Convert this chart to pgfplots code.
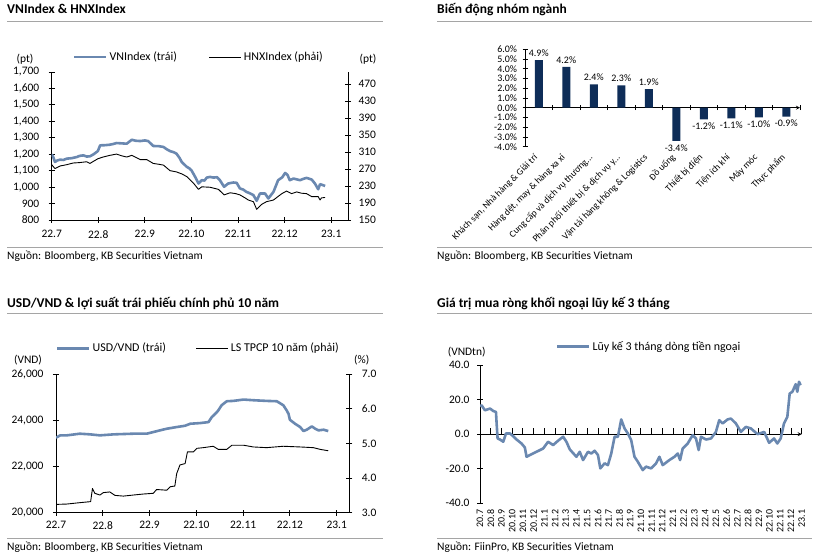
\documentclass[border=0pt]{standalone}
\usepackage{fontspec}
\setmainfont{Carlito}
\usepackage{pgfplots}
\pgfplotsset{compat=1.18}

\definecolor{kbblue}{HTML}{6A88B0}
\definecolor{kbnavy}{HTML}{0E2D58}
\definecolor{rulegray}{HTML}{A5A5A5}

\newcommand{\fs}[1]{\fontsize{#1}{#1}\selectfont}
\newcommand{\trunc}{.\kern0pt.\kern0pt.}

\pgfplotsset{
  kb/.style={
    scale only axis, anchor=south west,
    /pgf/number format/assume math mode=true,
    scaled ticks=false,
    axis line style={-, line width=0.8bp},
    every inner x axis line/.append style={-},
    every outer x axis line/.append style={-},
    every inner y axis line/.append style={-},
    every outer y axis line/.append style={-},
    tick align=center, major tick length=6bp,
    every tick/.style={black, line width=0.8bp},
    tick label style={font=\fs{11.5}},
    legend style={draw=none, fill=none, font=\fs{12}, inner sep=0pt, outer sep=0pt},
    legend image code/.code={\draw[##1, mark=none] (0bp,0bp) -- (32bp,0bp);},
  },
  blueline/.style={kbblue, line width=2.6bp, no markers, line join=round},
  blackline/.style={black, line width=0.9bp, no markers, line join=round},
}

\begin{document}
\begin{tikzpicture}
\useasboundingbox (0,0) rectangle (815bp,557bp);

% ---------- titles, rules, sources
\tikzset{ttl/.style={anchor=base west, inner sep=0pt, font=\bfseries\fs{13.5}},
         src/.style={anchor=base west, inner sep=0pt, font=\fs{11.5}}}
\node[ttl] at (7bp,543bp) {VNIndex \& HNXIndex};
\node[ttl] at (437bp,543bp) {Biến động nhóm ngành};
\node[ttl] at (7bp,249.7bp) {USD/VND \& lợi suất trái phiếu chính phủ 10 năm};
\node[ttl] at (437bp,249.7bp) {Giá trị mua ròng khối ngoại lũy kế 3 tháng};
\draw[rulegray, line width=1bp] (7bp,535.5bp) -- (383bp,535.5bp);
\draw[rulegray, line width=1bp] (437bp,535.5bp) -- (812bp,535.5bp);
\draw[rulegray, line width=1bp] (7bp,243bp) -- (383bp,243bp);
\draw[rulegray, line width=1bp] (437bp,243bp) -- (812bp,243bp);
\draw[rulegray, line width=1bp] (7bp,309.5bp) -- (383bp,309.5bp);
\draw[rulegray, line width=1bp] (437bp,309.5bp) -- (812bp,309.5bp);
\draw[rulegray, line width=1bp] (7bp,18bp) -- (383bp,18bp);
\draw[rulegray, line width=1bp] (437bp,18bp) -- (812bp,18bp);
\node[src] at (7bp,297.7bp) {Nguồn: Bloomberg, KB Securities Vietnam};
\node[src] at (437bp,297.7bp) {Nguồn: Bloomberg, KB Securities Vietnam};
\node[src] at (7bp,6.3bp) {Nguồn: Bloomberg, KB Securities Vietnam};
\node[src] at (437bp,6.3bp) {Nguồn: FiinPro, KB Securities Vietnam};

\node[font=\fs{11.5}] at (25bp,498bp) {(pt)};
\node[font=\fs{11.5}] at (368bp,498bp) {(pt)};
\node[font=\fs{11.5}] at (28bp,197bp) {(VND)};
\node[font=\fs{11.5}] at (361.7bp,197bp) {(\%)};
\node[font=\fs{11.5}] at (466.7bp,205.3bp) {(VNDtn)};

% ---------- panel 1: VNIndex (left)
\begin{axis}[kb, at={(51.7bp,337bp)}, width=296.3bp, height=148bp,
  xmin=0, xmax=6.36, ymin=800, ymax=1700,
  axis y line*=left, axis x line*=bottom,
  xtick={0,...,6}, xticklabels={22.7,22.8,22.9,22.10,22.11,22.12,23.1},
  ytick={800,900,...,1700},
  /pgf/number format/1000 sep={,},
  xticklabel style={yshift=-4bp}, yticklabel style={xshift=-6bp}]
\addplot[blueline] table {
x y
0 1199
0.03 1185
0.07 1153
0.12 1162
0.18 1167
0.25 1165
0.32 1173
0.43 1176
0.54 1183
0.60 1190
0.68 1193
0.75 1186
0.82 1187
0.90 1200
0.99 1219
1.04 1254
1.15 1255
1.25 1258
1.32 1262
1.39 1268
1.50 1266
1.61 1264
1.72 1288
1.80 1282
1.90 1280
2.00 1284
2.07 1280
2.18 1250
2.30 1249
2.40 1244
2.47 1230
2.54 1219
2.62 1212
2.68 1203
2.75 1175
2.79 1153
2.90 1123
2.95 1115
3.00 1102
3.08 1062
3.15 1022
3.22 1042
3.28 1040
3.33 1058
3.40 1062
3.47 1058
3.55 1060
3.61 1042
3.70 1002
3.79 1022
3.90 1028
3.97 1026
4.04 992
4.11 985
4.18 971
4.25 963
4.33 951
4.40 917
4.47 961
4.58 961
4.65 931
4.76 971
4.86 1042
4.95 1060
5.01 1086
5.06 1075
5.11 1042
5.19 1052
5.26 1047
5.33 1042
5.40 1050
5.47 1056
5.58 1046
5.65 1022
5.72 987
5.76 1018
5.82 1012
5.87 1007
};
\end{axis}
% panel 1: HNXIndex (right)
\begin{axis}[kb, at={(51.7bp,337bp)}, width=296.3bp, height=148bp,
  xmin=0, xmax=6.36, ymin=150, ymax=498,
  axis y line*=right, axis x line=none,
  ytick={150,190,...,470}, yticklabel style={xshift=4bp},
  legend columns=2,
  legend style={at={(0.072,1.101)}, anchor=west,
    /tikz/every even column/.append style={column sep=30bp}}]
\addlegendimage{blueline}
\addlegendentry{VNIndex (trái)}
\addplot[blackline] table {
x y
0 280
0.07 271
0.18 277
0.32 280
0.46 284
0.60 285
0.75 287
0.82 283
0.99 294
1.10 298
1.25 302
1.39 305
1.50 301
1.61 298
1.72 302
1.90 292
2.04 292
2.18 283
2.30 281
2.40 279
2.54 266
2.68 263
2.80 258
2.90 252
3.04 237
3.15 222
3.22 228
3.40 227
3.58 222
3.70 209
3.83 214
3.95 212
4.04 209
4.15 202
4.22 197
4.33 193
4.40 175
4.51 187
4.61 193
4.76 197
4.94 212
5.04 218
5.15 212
5.26 216
5.36 213
5.47 212
5.58 205
5.72 205
5.76 197
5.79 202
5.87 203
};
\addlegendentry{HNXIndex (phải)}
\end{axis}

% ---------- panel 2: sector bars
\begin{axis}[kb, at={(525bp,410.3bp)}, width=275bp, height=97.4bp,
  xmin=-0.5, xmax=9.5, ymin=-4, ymax=6,
  axis y line*=left, axis x line=middle,
  hide obscured x ticks=false, hide obscured y ticks=false,
  xtick={-0.5,0.5,...,9.5}, xticklabels={},
  ytick={-4,...,6},
  yticklabel={\pgfmathprintnumber[fixed,fixed zerofill,precision=1]{\tick}\%},
  tick label style={font=\fs{10}}, major tick length=5bp,
  yticklabel style={xshift=-2bp}]
\addplot[ybar, bar width=8bp, fill=kbnavy, draw=none,
  nodes near coords={\pgfmathprintnumber[fixed,fixed zerofill,precision=1]{\pgfplotspointmeta}\%},
  nodes near coords align=vertical,
  every node near coord/.append style={font=\fs{10}, text=black}]
  coordinates {(0,4.9) (1,4.2) (2,2.4) (3,2.3) (4,1.9) (5,-3.4) (6,-1.2) (7,-1.1) (8,-1.0) (9,-0.9)};
\end{axis}
\begin{axis}[kb, at={(525bp,410.3bp)}, width=275bp, height=97.4bp,
  xmin=-0.5, xmax=9.5, ymin=-4, ymax=6,
  axis y line=none, axis x line*=bottom, x axis line style={draw=none},
  xtick={0,...,9}, xtick style={draw=none},
  xticklabels={{Khách sạn, Nhà hàng \& Giải trí},{Hàng dệt, may \& hàng xa xỉ},{Cung cấp và dịch vụ thương\trunc},{Phân phối thiết bị \& dịch vụ y\trunc},{Vận tải hàng không \& Logistics},{Đồ uống},{Thiết bị điện},{Tiện ích khí},{Máy móc},{Thực phẩm}},
  xticklabel style={yshift=-4bp, rotate=45, anchor=east, font=\fs{9.5}}]
\end{axis}

% ---------- panel 3: USD/VND (left)
\begin{axis}[kb, at={(56bp,44.3bp)}, width=293.3bp, height=138.4bp,
  xmin=0, xmax=6.27, ymin=20000, ymax=26000,
  axis y line*=left, axis x line*=bottom,
  xtick={0,...,6}, xticklabels={22.7,22.8,22.9,22.10,22.11,22.12,23.1},
  ytick={20000,22000,...,26000},
  /pgf/number format/1000 sep={,},
  xticklabel style={yshift=-2bp}, yticklabel style={xshift=-6bp}]
\addplot[blueline] table {
x y
0 23252
0.09 23353
0.23 23353
0.51 23425
0.73 23396
0.94 23353
1.23 23396
1.65 23425
1.94 23425
2.08 23497
2.22 23569
2.37 23641
2.58 23713
2.76 23770
2.87 23857
3.08 23885
3.26 23928
3.33 24144
3.44 24360
3.47 24438
3.54 24657
3.65 24832
3.79 24847
4.01 24905
4.22 24876
4.50 24847
4.72 24832
4.86 24657
4.93 24438
4.97 24288
5.00 24029
5.11 23857
5.22 23713
5.29 23540
5.36 23598
5.47 23742
5.54 23641
5.61 23569
5.72 23598
5.82 23540
};
\end{axis}
% panel 3: 10y yield (right)
\begin{axis}[kb, at={(56bp,44.3bp)}, width=293.3bp, height=138.4bp,
  xmin=0, xmax=6.27, ymin=3, ymax=7,
  axis y line*=right, axis x line=none,
  ytick={3,...,7},
  yticklabel={\pgfmathprintnumber[fixed,fixed zerofill,precision=1]{\tick}},
  yticklabel style={xshift=6bp},
  legend columns=2,
  legend style={at={(0,1.188)}, anchor=west,
    /tikz/every even column/.append style={column sep=28bp}}]
\addlegendimage{blueline}
\addlegendentry{USD/VND (trái)}
\addplot[blackline] table {
x y
0 3.24
0.23 3.25
0.51 3.29
0.74 3.32
0.78 3.70
0.83 3.56
0.94 3.51
1.01 3.58
1.15 3.60
1.26 3.50
1.44 3.48
1.65 3.51
1.87 3.54
2.08 3.56
2.15 3.67
2.37 3.65
2.44 3.75
2.54 3.77
2.58 4.13
2.65 4.38
2.76 4.42
2.81 4.76
2.94 4.76
3.01 4.86
3.15 4.88
3.36 4.92
3.47 4.83
3.65 4.83
3.76 4.95
4.01 4.95
4.22 4.90
4.50 4.88
4.86 4.92
5.22 4.90
5.50 4.88
5.65 4.83
5.82 4.79
};
\addlegendentry{LS TPCP 10 năm (phải)}
\end{axis}

% ---------- panel 4: foreign net buying
\begin{axis}[kb, at={(480bp,53.7bp)}, width=321.7bp, height=138.3bp,
  xmin=0, xmax=30, ymin=-40, ymax=40,
  axis y line*=left, axis x line=middle,
  hide obscured x ticks=false, hide obscured y ticks=false,
  xtick={0,...,30}, xticklabels={}, xtick align=inside,
  ytick={-40,-20,...,40},
  yticklabel={\pgfmathprintnumber[fixed,fixed zerofill,precision=1]{\tick}},
  yticklabel style={xshift=-4bp},
  legend style={at={(0.236,1.132)}, anchor=west}]
\addplot[blueline] table {
x y
0 16.1
0.15 16.7
0.46 13.8
0.93 14.8
1.24 13.4
1.49 12.8
1.55 6.2
1.64 -2.5
1.86 -3.1
2.17 -4.4
2.42 0.4
2.79 0.4
3.10 -1.2
3.41 -3.1
3.87 -5.4
4.18 -7.7
4.34 -13.1
4.65 -12.1
5.27 -10.2
5.89 -8.3
6.35 -4.4
6.82 -6.3
7.28 -3.8
7.75 -1.5
8.06 -4.4
8.37 -8.8
8.99 -13.1
9.30 -10.2
9.61 -15.0
10.07 -10.2
10.38 -11.2
10.69 -9.6
11.00 -12.1
11.22 -19.8
11.62 -16.9
11.93 -17.9
12.24 -11.2
12.55 -1.5
12.86 -1.5
13.17 8.5
13.48 3.3
13.79 0.4
14.10 -3.5
14.41 -13.1
14.72 -16.0
15.18 -20.8
15.49 -18.8
15.96 -19.8
16.42 -16.9
16.73 -13.1
17.04 -17.9
17.66 -15.0
18.13 -13.1
18.44 -11.2
18.66 -15.0
18.90 -8.3
19.37 -5.4
19.83 -0.6
20.14 -2.5
20.39 -9.2
20.61 -1.5
21.07 -3.1
21.54 -2.5
22.00 1.3
22.31 8.1
22.62 6.2
23.09 8.5
23.40 9.0
23.86 6.2
24.33 1.3
24.79 4.2
25.26 3.3
25.88 0.0
26.50 1.3
26.96 -5.0
27.42 -2.5
27.73 -5.4
28.04 -2.5
28.35 6.2
28.66 10.0
28.88 23.5
29.13 24.5
29.44 28.9
29.59 24.5
29.75 30.3
29.90 28.3
};
\addlegendentry{Lũy kế 3 tháng dòng tiền ngoại}
\end{axis}
\begin{axis}[kb, at={(480bp,53.7bp)}, width=321.7bp, height=138.3bp,
  xmin=0, xmax=30, ymin=-40, ymax=40,
  axis y line=none, axis x line*=bottom, x axis line style={draw=none},
  xtick={0,...,30}, xtick style={draw=none},
  xticklabels={20.7,20.8,20.9,20.10,20.11,20.12,21.1,21.2,21.3,21.4,21.5,21.6,21.7,21.8,21.9,21.10,21.11,21.12,22.1,22.2,22.3,22.4,22.5,22.6,22.7,22.8,22.9,22.10,22.11,22.12,23.1},
  xticklabel style={rotate=90, anchor=east, font=\fs{10}}]
\end{axis}
\end{tikzpicture}
\end{document}
